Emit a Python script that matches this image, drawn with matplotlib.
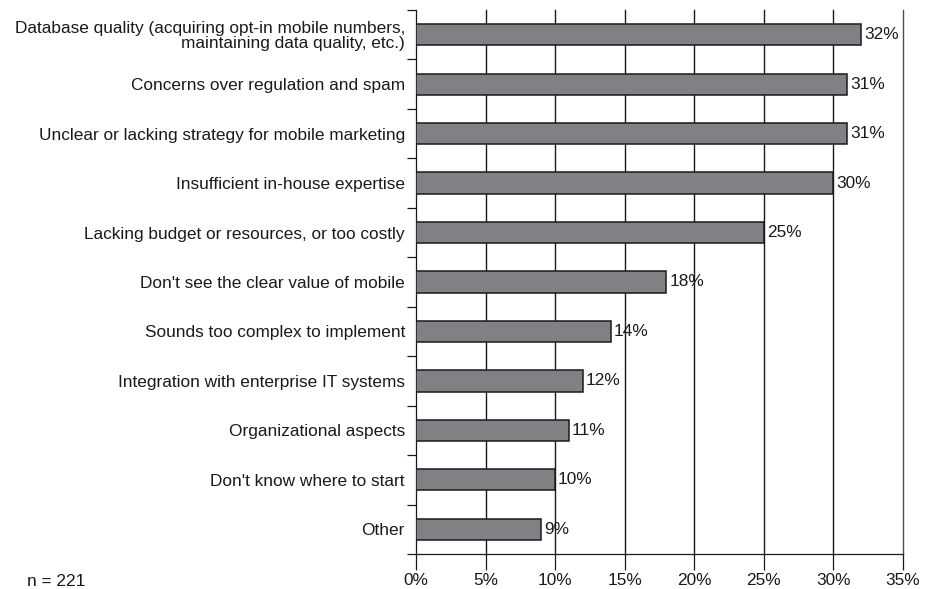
import numpy as np
import matplotlib.pyplot as plt
from matplotlib.ticker import FixedLocator

plt.rcParams['font.family'] = ['Liberation Sans', 'DejaVu Sans']

# survey answers, top to bottom
categories = [
    "Database quality (acquiring opt-in mobile numbers,\nmaintaining data quality, etc.)",
    "Concerns over regulation and spam",
    "Unclear or lacking strategy for mobile marketing",
    "Insufficient in-house expertise",
    "Lacking budget or resources, or too costly",
    "Don't see the clear value of mobile",
    "Sounds too complex to implement",
    "Integration with enterprise IT systems",
    "Organizational aspects",
    "Don't know where to start",
    "Other",
]
shares = [32, 31, 31, 30, 25, 18, 14, 12, 11, 10, 9]
x_ticks = [0, 5, 10, 15, 20, 25, 30, 35]
sample_note = "n = 221"

fs = 12.4
ink = "#1a1a1a"
fig = plt.figure(figsize=(9.3, 5.89), dpi=100)
ax = fig.add_axes([416/930, 1 - 554/589, (903 - 416)/930, (554 - 10)/589])

y = np.arange(len(categories))
ax.barh(y, shares, height=0.43, color="#808184", edgecolor=ink,
        linewidth=1.1, zorder=3)

for yi, v in zip(y, shares):
    ax.text(v + 0.2, yi, f"{v}%", va="center", ha="left", fontsize=fs,
            color=ink, zorder=4)

ax.set_xlim(0, 35)
ax.set_ylim(len(categories) - 0.5, -0.5)

# vertical grid every 5%
for t in x_ticks[1:]:
    ax.axvline(t, color=ink if t < 35 else "#4d4d4d", lw=1.0, zorder=1,
               clip_on=False)

ax.set_xticks(x_ticks)
ax.set_xticklabels([f"{t}%" for t in x_ticks], fontsize=fs, color=ink)
ax.tick_params(axis="x", direction="out", length=11.5, width=0.9, pad=2,
               color=ink)

ax.set_yticks(y)
ax.set_yticklabels(categories, fontsize=fs, color=ink, linespacing=1.0)
ax.tick_params(axis="y", which="major", length=0, pad=8)
ax.yaxis.set_minor_locator(FixedLocator(np.arange(-0.5, len(categories), 1.0)))
ax.tick_params(axis="y", which="minor", length=6.5, width=0.9, color=ink)

for s in ("top", "right"):
    ax.spines[s].set_visible(False)
for s in ("left", "bottom"):
    ax.spines[s].set_color(ink)
    ax.spines[s].set_linewidth(0.9)

fig.text(27/930, 1 - 581/589, sample_note, fontsize=fs, va="center",
         ha="left", color=ink)

fig.savefig("out.png", dpi=100)
